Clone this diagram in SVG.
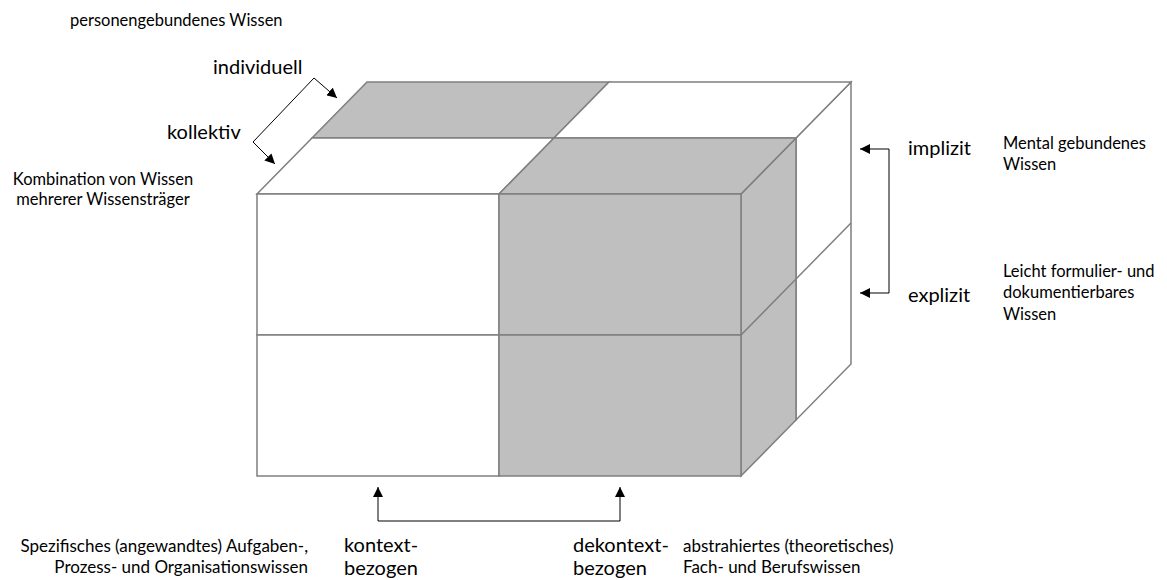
<svg xmlns="http://www.w3.org/2000/svg" width="1167" height="580" viewBox="0 0 1167 580">
<style>
.face{stroke:#7f7f7f;stroke-width:1.5;stroke-linejoin:miter}
.g{fill:#bfbfbf}
.w{fill:#ffffff}
.edge{fill:none;stroke:#7f7f7f;stroke-width:1.5}
.conn{fill:none;stroke:#000;stroke-width:1}
.s{font-family:Lato,"Liberation Sans",sans-serif;font-size:16.5px;fill:#000}
.b{font-size:17px}
.l{font-family:Lato,"Liberation Sans",sans-serif;font-size:20px;fill:#000}
</style>
<defs>
<marker id="ah" viewBox="0 0 10 10" refX="10" refY="5" markerWidth="10" markerHeight="10" markerUnits="userSpaceOnUse" orient="auto">
<path d="M0,0 L10,5 L0,10 Z" fill="#000"/>
</marker>
</defs>
<rect width="1167" height="580" fill="#fff"/>
<g id="cube">
<polygon class="face w" points="796,138 851,82 851,364 796,420"/>
<line class="edge" x1="796" y1="279" x2="851" y2="223"/>
<polygon class="face g" points="741,194 796,138 796,420 741,476"/>
<line class="edge" x1="741" y1="335" x2="796" y2="279"/>
<polygon class="face g" points="312,138 554,138 609,82 367,82"/>
<polygon class="face w" points="554,138 796,138 851,82 609,82"/>
<polygon class="face w" points="257,194 499,194 554,138 312,138"/>
<polygon class="face g" points="499,194 741,194 796,138 554,138"/>
<rect class="face w" x="257" y="194" width="242" height="141"/>
<rect class="face w" x="257" y="335" width="242" height="141"/>
<rect class="face g" x="499" y="194" width="242" height="141"/>
<rect class="face g" x="499" y="335" width="242" height="141"/>
</g>
<g id="connectors">
<polyline class="conn" points="253,142 314,78 337,98" marker-end="url(#ah)"/>
<polyline class="conn" points="253,142 275,164" marker-end="url(#ah)"/>
<polyline class="conn" points="889,149 860,149" marker-end="url(#ah)"/>
<polyline class="conn" points="889,149 889,293 860,293" marker-end="url(#ah)"/>
<polyline class="conn" points="378,521 378,487" marker-end="url(#ah)"/>
<polyline class="conn" points="378,521 620,521 620,487" marker-end="url(#ah)"/>
</g>
<g id="labels">
<text class="s" x="70" y="26">personengebundenes Wissen</text>
<text class="l" x="213" y="74">individuell</text>
<text class="l" x="167" y="139">kollektiv</text>
<text class="s" x="103" y="185" text-anchor="middle">Kombination von Wissen</text>
<text class="s" x="103" y="205" text-anchor="middle">mehrerer Wissensträger</text>
<text class="l" x="908" y="155">implizit</text>
<text class="l" x="908" y="302">explizit</text>
<text class="s" x="1003" y="149">Mental gebundenes</text>
<text class="s" x="1003" y="170">Wissen</text>
<text class="s" x="1003" y="277">Leicht formulier- und</text>
<text class="s" x="1003" y="298">dokumentierbares</text>
<text class="s" x="1003" y="320">Wissen</text>
<text class="s b" x="308" y="552" text-anchor="end">Spezifisches (angewandtes) Aufgaben-,</text>
<text class="s b" x="308" y="573" text-anchor="end">Prozess- und Organisationswissen</text>
<text class="l" x="344" y="552">kontext-</text>
<text class="l" x="344" y="575">bezogen</text>
<text class="l" x="573" y="552">dekontext-</text>
<text class="l" x="573" y="575">bezogen</text>
<text class="s b" x="683" y="552">abstrahiertes (theoretisches)</text>
<text class="s b" x="683" y="573">Fach- und Berufswissen</text>
</g>
</svg>
